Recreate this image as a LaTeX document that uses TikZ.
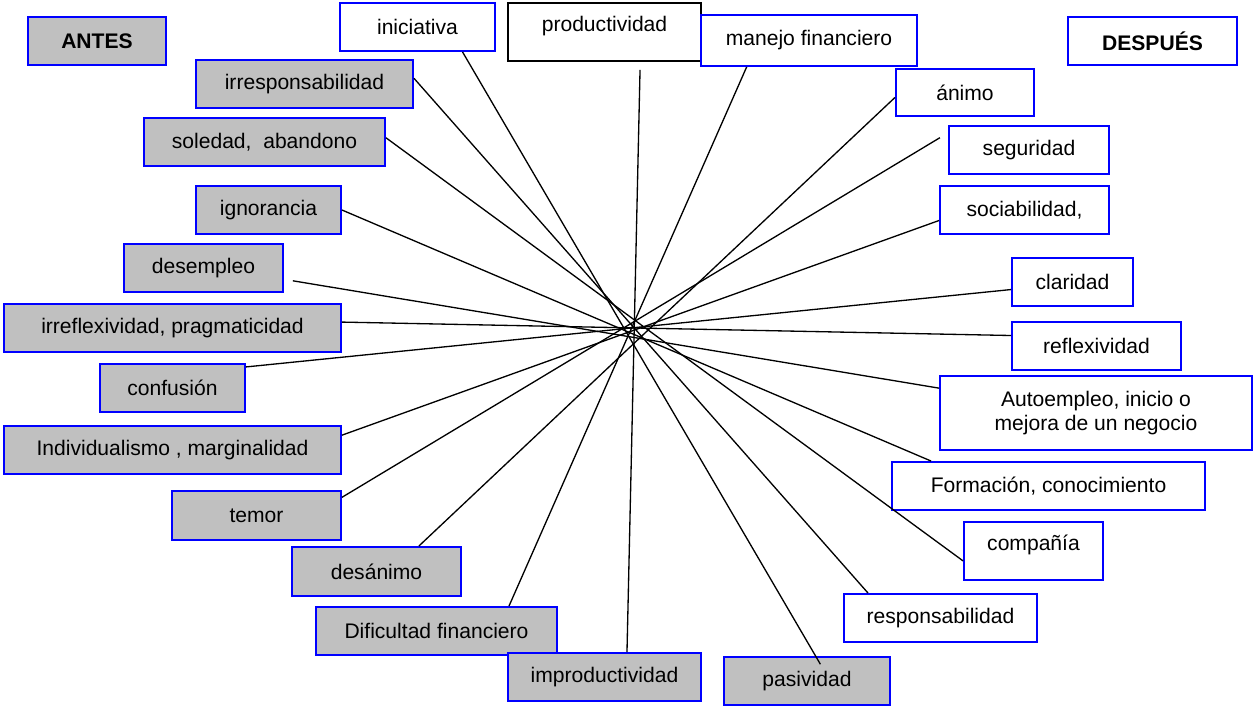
\documentclass[tikz,border=0pt]{standalone}
\usepackage{fontspec}
\setmainfont{Liberation Sans}
\usepackage{tikz}
\usetikzlibrary{positioning}
\definecolor{grisbox}{RGB}{192,192,192}

\begin{document}
\begin{tikzpicture}[x=0.02cm, y=-0.02cm,
    every node/.style={rectangle, draw=blue, line width=1.1pt, inner sep=0pt,
      minimum height=0.96cm, align=center, font=\fontsize{12}{13.8}\selectfont},
    cajaantes/.style={fill=grisbox},
    cajadespues/.style={fill=white},
    linea/.style={line width=0.75pt}]
    \useasboundingbox (0,0) rectangle (1253,706);
    % columna antes
    \node[cajaantes, minimum width=2.76cm, font=\fontsize{12}{13.8}\selectfont\bfseries] (antes) at (97,41) {ANTES};
    \node[cajaantes, minimum width=4.34cm] (irresp) at (304.5,84) {irresponsabilidad};
    \node[cajaantes, minimum width=4.82cm] (soledad) at (264.5,142) {soledad,\ \ abandono};
    \node[cajaantes, minimum width=2.90cm] (ignorancia) at (268.5,210) {ignorancia};
    \node[cajaantes, minimum width=3.18cm] (desempleo) at (203.5,268) {desempleo};
    \node[cajaantes, minimum width=6.74cm] (irreflex) at (172.5,328) {irreflexividad, pragmaticidad};
    \node[cajaantes, minimum width=2.90cm] (confusion) at (172.5,388) {confusión};
    \node[cajaantes, minimum width=6.74cm] (indiv) at (172.5,450) {Individualismo , marginalidad};
    \node[cajaantes, minimum width=3.38cm, minimum height=0.98cm] (temor) at (256.5,515.5) {temor};
    \node[cajaantes, minimum width=3.38cm, minimum height=0.98cm] (desanimo) at (376.5,571.5) {desánimo};
    \node[cajaantes, minimum width=4.82cm] (dificultad) at (436.5,631) {Dificultad financiero};
    \node[cajaantes, minimum width=3.86cm] (improd) at (604.5,677) {improductividad};
    \node[cajaantes, minimum width=3.32cm] (pasividad) at (807,681) {pasividad};
    % columna despues
    \node[cajadespues, minimum width=3.38cm, font=\fontsize{12}{13.8}\selectfont\bfseries] (despues) at (1152.5,41) {DESPUÉS};
    \node[cajadespues, minimum width=3.10cm] (iniciativa) at (417.5,27) {iniciativa};
    \node[cajadespues, draw=black, minimum width=3.86cm, minimum height=1.16cm, text depth=0.33cm] (prod) at (604.5,32) {productividad};
    \node[cajadespues, minimum width=4.32cm, minimum height=1.02cm] (manejo) at (809,40.5) {manejo financiero};
    \node[cajadespues, minimum width=2.76cm, minimum height=0.94cm] (animo) at (965,92.5) {ánimo};
    \node[cajadespues, minimum width=3.20cm] (seguridad) at (1029,150) {seguridad};
    \node[cajadespues, minimum width=3.38cm] (sociab) at (1024.5,210) {sociabilidad,};
    \node[cajadespues, minimum width=2.42cm] (claridad) at (1072.5,282) {claridad};
    \node[cajadespues, minimum width=3.38cm] (reflex) at (1096.5,346) {reflexividad};
    \node[cajadespues, minimum width=6.24cm, minimum height=1.48cm] (auto) at (1096,413) {Autoempleo, inicio o\\ mejora de un negocio};
    \node[cajadespues, minimum width=6.26cm] (formacion) at (1048.5,486) {Formación, conocimiento};
    \node[cajadespues, minimum width=2.78cm, minimum height=1.16cm, text depth=0.33cm] (compania) at (1033.5,551) {compañía};
    \node[cajadespues, minimum width=3.86cm] (resp) at (940.5,618) {responsabilidad};
    % lineas
    \draw[linea] (irresp.3) -- (resp.161);
    \draw[linea] (soledad.2) -- (compania.188);
    \draw[linea] (ignorancia.east) -- (formacion.168);
    \draw[linea, shorten <=0.18cm] (desempleo.-8) -- (auto.171);
    \draw[linea] (irreflex.2) -- (reflex.173);
    \draw[linea] (confusion.16) -- (claridad.187);
    \draw[linea] (indiv.5) -- (sociab.187);
    \draw[linea, shorten >=0.19cm] (temor.12) -- (seguridad.168);
    \draw[linea] (desanimo.31) -- (animo.184);
    \draw[linea] (dificultad.19) -- (manejo.203);
    \draw[linea, shorten >=0.16cm] (improd.48) -- (prod.-40);
    \draw[linea, shorten <=-0.19cm] (pasividad.71) -- (iniciativa.-29);
\end{tikzpicture}
\end{document}
